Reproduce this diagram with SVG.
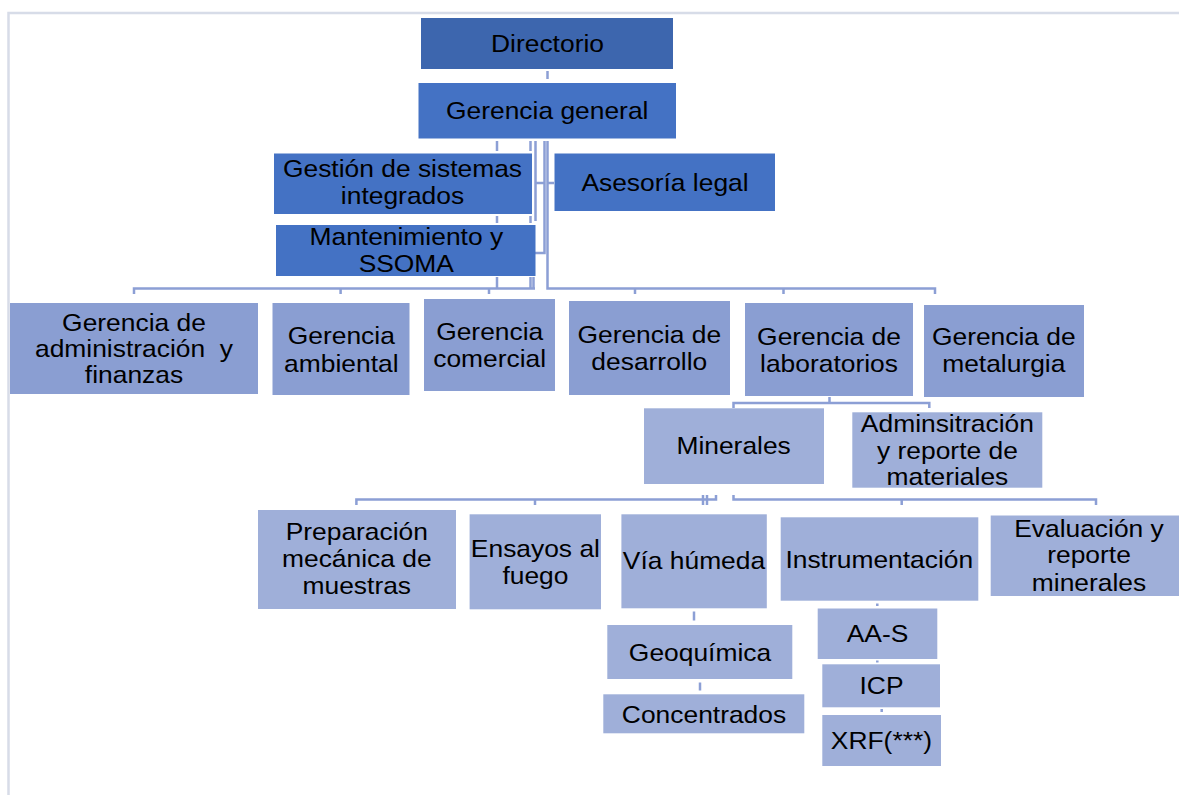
<svg xmlns="http://www.w3.org/2000/svg" width="1179" height="795" viewBox="0 0 1179 795">
<style>
text{font-family:"Liberation Sans",Arial,sans-serif;font-size:24px;fill:#000;text-anchor:middle}
.l1{fill:#4472c4}
.l0{fill:#3d66ae}
.l2{fill:#8a9ed2}
.l3{fill:#9fafd9}
.c{stroke:#8c9fd5;stroke-width:2.5;fill:none}
.b{stroke:#d7dce8;stroke-width:2.5;fill:none}
</style>
<rect width="1179" height="795" fill="#fff"/>
<g id="frame">
<path class="b" d="M8.5 795V13H1179"/>
</g>
<g id="connectors">
<path class="c" d="M547.5 71V79"/>
<path class="c" d="M497 141V151M497 216V223M497 277V289M530.5 141V151M530.5 216V223M530.5 277V289M533.5 277V289"/>
<path class="c" d="M535.5 141V221M535.5 183H545"/>
<path class="c" d="M544.5 141V253H535"/>
<path class="c" d="M547.5 141V288.5H935V294M547.5 183H554M635 288.5V294M783.5 288.5V294"/>
<path class="c" d="M134 294V288.5H535M340.6 288.5V294M489 288.5V294"/>
<path class="c" d="M829.5 397V403M733.5 408V403H929.3V408"/>
<path class="c" d="M356.4 505V499.5H716V495M535 499.5V505M703 495V505M707 495V505"/>
<path class="c" d="M733.5 495V499.5H1096V505M901.7 499.5V505"/>
<path class="c" d="M694 611.5V620.5M700 682.5V690.5M877.3 603.5V606M877.3 660.5V662.5M881.7 709V712"/>
</g>
<g id="directorio"><rect class="l0" x="421" y="18" width="252" height="51"/><text transform="translate(547.5 0) scale(1.1 1)"><tspan x="0" y="52">Directorio</tspan></text></g>
<g id="gerencia-general"><rect class="l1" x="418.5" y="83" width="257.5" height="55.5"/><text transform="translate(547.2 0) scale(1.1 1)"><tspan x="0" y="119">Gerencia general</tspan></text></g>
<g id="gestion"><rect class="l1" x="274" y="153.5" width="258" height="60.5"/><text transform="translate(402.5 0) scale(1.1 1)"><tspan x="0" y="177">Gestión de sistemas</tspan><tspan x="0" y="204">integrados</tspan></text></g>
<g id="asesoria"><rect class="l1" x="554.5" y="153.5" width="220.5" height="57.5"/><text transform="translate(665 0) scale(1.1 1)"><tspan x="0" y="190.7">Asesoría legal</tspan></text></g>
<g id="mantenimiento"><rect class="l1" x="276" y="225" width="259.5" height="51"/><text transform="translate(406.3 0) scale(1.1 1)"><tspan x="0" y="245">Mantenimiento y</tspan><tspan x="0" y="271.7">SSOMA</tspan></text></g>
<g id="g-admin"><rect class="l2" x="10" y="303" width="248" height="91"/><text transform="translate(134 0) scale(1.1 1)" xml:space="preserve"><tspan x="0" y="330.7">Gerencia de</tspan><tspan x="0" y="356.7">administración  y</tspan><tspan x="0" y="383.3">finanzas</tspan></text></g>
<g id="g-ambiental"><rect class="l2" x="272.5" y="303" width="137" height="92"/><text transform="translate(341.3 0) scale(1.1 1)"><tspan x="0" y="344">Gerencia</tspan><tspan x="0" y="371.7">ambiental</tspan></text></g>
<g id="g-comercial"><rect class="l2" x="424" y="299" width="131" height="92"/><text transform="translate(489.7 0) scale(1.1 1)"><tspan x="0" y="340">Gerencia</tspan><tspan x="0" y="367.3">comercial</tspan></text></g>
<g id="g-desarrollo"><rect class="l2" x="569" y="301" width="161" height="94"/><text transform="translate(649.3 0) scale(1.1 1)"><tspan x="0" y="343.3">Gerencia de</tspan><tspan x="0" y="370">desarrollo</tspan></text></g>
<g id="g-laboratorios"><rect class="l2" x="745" y="303" width="168" height="93"/><text transform="translate(829 0) scale(1.1 1)"><tspan x="0" y="345">Gerencia de</tspan><tspan x="0" y="371.7">laboratorios</tspan></text></g>
<g id="g-metalurgia"><rect class="l2" x="924" y="305" width="160" height="92"/><text transform="translate(1003.8 0) scale(1.1 1)"><tspan x="0" y="345">Gerencia de</tspan><tspan x="0" y="371.7">metalurgia</tspan></text></g>
<g id="minerales"><rect class="l3" x="644" y="408.3" width="180" height="75.7"/><text transform="translate(733.6 0) scale(1.1 1)"><tspan x="0" y="454">Minerales</tspan></text></g>
<g id="adminsitracion"><rect class="l3" x="852.3" y="412.3" width="190" height="75.4"/><text transform="translate(947.4 0) scale(1.1 1)"><tspan x="0" y="431.7">Adminsitración</tspan><tspan x="0" y="459.3">y reporte de</tspan><tspan x="0" y="485">materiales</tspan></text></g>
<g id="preparacion"><rect class="l3" x="258" y="510" width="198" height="99"/><text transform="translate(356.8 0) scale(1.1 1)"><tspan x="0" y="540">Preparación</tspan><tspan x="0" y="566.7">mecánica de</tspan><tspan x="0" y="594.3">muestras</tspan></text></g>
<g id="ensayos"><rect class="l3" x="469.6" y="514.3" width="131.4" height="95"/><text transform="translate(535.4 0) scale(1.1 1)"><tspan x="0" y="557.3">Ensayos al</tspan><tspan x="0" y="584">fuego</tspan></text></g>
<g id="via-humeda"><rect class="l3" x="621.4" y="514.3" width="145.4" height="94"/><text transform="translate(694 0) scale(1.1 1)"><tspan x="0" y="569.5">Vía húmeda</tspan></text></g>
<g id="instrumentacion"><rect class="l3" x="780.7" y="517.3" width="197.6" height="83.4"/><text transform="translate(879.3 0) scale(1.1 1)"><tspan x="0" y="568.3">Instrumentación</tspan></text></g>
<g id="evaluacion"><rect class="l3" x="990.7" y="515.5" width="188.3" height="80.5"/><text transform="translate(1089 0) scale(1.1 1)"><tspan x="0" y="536.7">Evaluación y</tspan><tspan x="0" y="563.3">reporte</tspan><tspan x="0" y="590.7">minerales</tspan></text></g>
<g id="geoquimica"><rect class="l3" x="607.3" y="625" width="185" height="54"/><text transform="translate(700 0) scale(1.1 1)"><tspan x="0" y="661">Geoquímica</tspan></text></g>
<g id="concentrados"><rect class="l3" x="603.3" y="694.3" width="201" height="39"/><text transform="translate(704 0) scale(1.1 1)"><tspan x="0" y="722.7">Concentrados</tspan></text></g>
<g id="aa-s"><rect class="l3" x="817.7" y="608.5" width="119.6" height="50.5"/><text transform="translate(877.5 0) scale(1.1 1)"><tspan x="0" y="642.3">AA-S</tspan></text></g>
<g id="icp"><rect class="l3" x="822.3" y="664.3" width="117.7" height="43"/><text transform="translate(881.5 0) scale(1.1 1)"><tspan x="0" y="694.3">ICP</tspan></text></g>
<g id="xrf"><rect class="l3" x="822.3" y="715" width="118.7" height="51"/><text transform="translate(881.4 0) scale(1.1 1)"><tspan x="0" y="749.3">XRF(***)</tspan></text></g>
</svg>
